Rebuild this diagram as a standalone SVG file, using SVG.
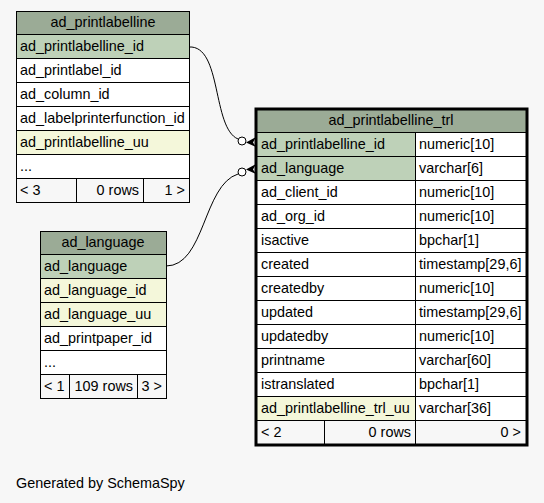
<svg xmlns="http://www.w3.org/2000/svg" width="544" height="503" viewBox="0 0 544 503">
<style>
text{font-family:"Liberation Sans",Arial,sans-serif;font-size:14.4px;fill:#000}
.c{stroke:#000;stroke-width:1}
.h{fill:#9bab96}.pk{fill:#bed1b8}.ix{fill:#f4f7da}.w{fill:#fff}.f{fill:#f7f7f7}
.m{text-anchor:middle}.r{text-anchor:end}
.e{fill:none;stroke:#000;stroke-width:1}
</style>
<rect width="544" height="503" fill="#f7f7f7"/>
<g id="connectors">
<path class="e" d="M189,47 C222,45 212,128 238,139"/>
<circle cx="242" cy="141" r="4" fill="#fff" stroke="#000"/>
<polygon points="256,137 246,142.5 256,147 253,142.5" fill="#000"/>
<path class="e" d="M166,266 C205,266 203,185 238,174"/>
<circle cx="242" cy="172" r="4" fill="#fff" stroke="#000"/>
<polygon points="256,164 246,169.5 256,174 253,169.5" fill="#000"/>
</g>
<g id="ad_printlabelline">
<rect class="c h" x="16.5" y="11.5" width="173" height="23"/>
<text class="m" x="103" y="27">ad_printlabelline</text>
<rect class="c pk" x="16.5" y="34.5" width="173" height="24"/>
<text x="20" y="51">ad_printlabelline_id</text>
<rect class="c w" x="16.5" y="58.5" width="173" height="24"/>
<text x="20" y="75">ad_printlabel_id</text>
<rect class="c w" x="16.5" y="82.5" width="173" height="24"/>
<text x="20" y="99">ad_column_id</text>
<rect class="c w" x="16.5" y="106.5" width="173" height="24"/>
<text x="20" y="123">ad_labelprinterfunction_id</text>
<rect class="c ix" x="16.5" y="130.5" width="173" height="24"/>
<text x="20" y="147">ad_printlabelline_uu</text>
<rect class="c w" x="16.5" y="154.5" width="173" height="24"/>
<text x="20" y="171">...</text>
<rect class="c f" x="16.5" y="178.5" width="60" height="24"/>
<rect class="c f" x="76.5" y="178.5" width="67" height="24"/>
<rect class="c f" x="143.5" y="178.5" width="46" height="24"/>
<text x="20" y="195">&lt; 3</text>
<text class="r" x="139" y="195">0 rows</text>
<text class="r" x="185" y="195">1 &gt;</text>
</g>
<g id="ad_language">
<rect class="c h" x="40.5" y="231.5" width="126" height="23"/>
<text class="m" x="103" y="247">ad_language</text>
<rect class="c pk" x="40.5" y="254.5" width="126" height="24"/>
<text x="44" y="271">ad_language</text>
<rect class="c ix" x="40.5" y="278.5" width="126" height="24"/>
<text x="44" y="295">ad_language_id</text>
<rect class="c ix" x="40.5" y="302.5" width="126" height="24"/>
<text x="44" y="319">ad_language_uu</text>
<rect class="c w" x="40.5" y="326.5" width="126" height="24"/>
<text x="44" y="343">ad_printpaper_id</text>
<rect class="c w" x="40.5" y="350.5" width="126" height="24"/>
<text x="44" y="367">...</text>
<rect class="c f" x="40.5" y="374.5" width="29" height="24"/>
<rect class="c f" x="69.5" y="374.5" width="68" height="24"/>
<rect class="c f" x="137.5" y="374.5" width="29" height="24"/>
<text x="44" y="391">&lt; 1</text>
<text class="r" x="133" y="391">109 rows</text>
<text class="r" x="162" y="391">3 &gt;</text>
</g>
<g id="ad_printlabelline_trl">
<rect class="c h" x="256.5" y="109.5" width="270" height="23"/>
<text class="m" x="391" y="125">ad_printlabelline_trl</text>
<rect class="c pk" x="256.5" y="132.5" width="159" height="24"/><rect class="c w" x="415.5" y="132.5" width="111" height="24"/>
<text x="261" y="149">ad_printlabelline_id</text><text x="419" y="149">numeric[10]</text>
<rect class="c pk" x="256.5" y="156.5" width="159" height="24"/><rect class="c w" x="415.5" y="156.5" width="111" height="24"/>
<text x="261" y="173">ad_language</text><text x="419" y="173">varchar[6]</text>
<rect class="c w" x="256.5" y="180.5" width="159" height="24"/><rect class="c w" x="415.5" y="180.5" width="111" height="24"/>
<text x="261" y="197">ad_client_id</text><text x="419" y="197">numeric[10]</text>
<rect class="c w" x="256.5" y="204.5" width="159" height="24"/><rect class="c w" x="415.5" y="204.5" width="111" height="24"/>
<text x="261" y="221">ad_org_id</text><text x="419" y="221">numeric[10]</text>
<rect class="c w" x="256.5" y="228.5" width="159" height="24"/><rect class="c w" x="415.5" y="228.5" width="111" height="24"/>
<text x="261" y="245">isactive</text><text x="419" y="245">bpchar[1]</text>
<rect class="c w" x="256.5" y="252.5" width="159" height="24"/><rect class="c w" x="415.5" y="252.5" width="111" height="24"/>
<text x="261" y="269">created</text><text x="419" y="269">timestamp[29,6]</text>
<rect class="c w" x="256.5" y="276.5" width="159" height="24"/><rect class="c w" x="415.5" y="276.5" width="111" height="24"/>
<text x="261" y="293">createdby</text><text x="419" y="293">numeric[10]</text>
<rect class="c w" x="256.5" y="300.5" width="159" height="24"/><rect class="c w" x="415.5" y="300.5" width="111" height="24"/>
<text x="261" y="317">updated</text><text x="419" y="317">timestamp[29,6]</text>
<rect class="c w" x="256.5" y="324.5" width="159" height="24"/><rect class="c w" x="415.5" y="324.5" width="111" height="24"/>
<text x="261" y="341">updatedby</text><text x="419" y="341">numeric[10]</text>
<rect class="c w" x="256.5" y="348.5" width="159" height="24"/><rect class="c w" x="415.5" y="348.5" width="111" height="24"/>
<text x="261" y="365">printname</text><text x="419" y="365">varchar[60]</text>
<rect class="c w" x="256.5" y="372.5" width="159" height="24"/><rect class="c w" x="415.5" y="372.5" width="111" height="24"/>
<text x="261" y="389">istranslated</text><text x="419" y="389">bpchar[1]</text>
<rect class="c ix" x="256.5" y="396.5" width="159" height="24"/><rect class="c w" x="415.5" y="396.5" width="111" height="24"/>
<text x="261" y="413">ad_printlabelline_trl_uu</text><text x="419" y="413">varchar[36]</text>
<rect class="c f" x="256.5" y="420.5" width="68" height="24"/>
<rect class="c f" x="324.5" y="420.5" width="91" height="24"/>
<rect class="c f" x="415.5" y="420.5" width="111" height="24"/>
<text x="261" y="437">&lt; 2</text>
<text class="r" x="411" y="437">0 rows</text>
<text class="r" x="521" y="437">0 &gt;</text>
<rect x="256" y="109" width="271" height="336" fill="none" stroke="#000" stroke-width="3"/>
</g>
<text x="16" y="488">Generated by SchemaSpy</text>
</svg>
